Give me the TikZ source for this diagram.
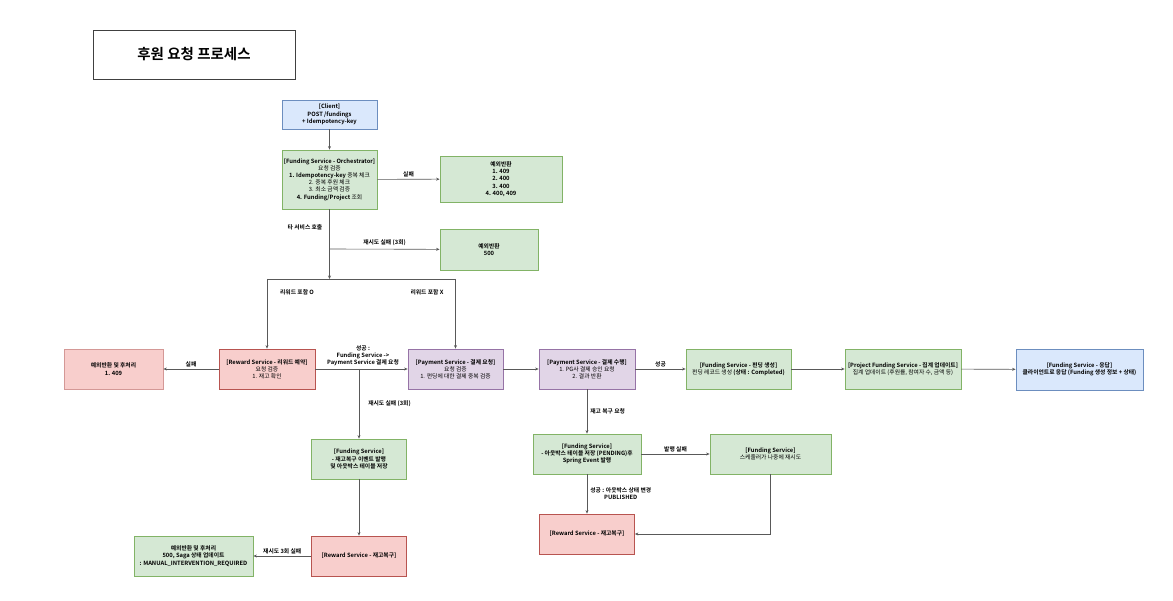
\documentclass[tikz,border=0pt]{standalone}
\usepackage{fontspec}
\setmainfont{Noto Sans CJK KR}[BoldFont={Noto Sans CJK KR Bold}]
\usetikzlibrary{arrows.meta}

\definecolor{greenfill}{HTML}{D5E8D4}
\definecolor{greenline}{HTML}{82B366}
\definecolor{redfill}{HTML}{F8CECC}
\definecolor{redline}{HTML}{B85450}
\definecolor{bluefill}{HTML}{DAE8FC}
\definecolor{blueline}{HTML}{6C8EBF}
\definecolor{purplefill}{HTML}{E1D5E7}
\definecolor{purpleline}{HTML}{9673A6}

\begin{document}
\begin{tikzpicture}[x=1pt, y=-1pt,
    box/.style={draw, line width=0.8pt, align=center, inner sep=1pt,
        font=\fontsize{5.8}{7.2}\selectfont},
    gbox/.style={box, fill=greenfill, draw=greenline},
    rbox/.style={box, fill=redfill, draw=redline},
    bbox/.style={box, fill=bluefill, draw=blueline},
    pbox/.style={box, fill=purplefill, draw=purpleline},
    flow/.style={draw=black!65, line width=0.6pt, -{Stealth[length=3.5pt,width=3pt]}},
    lbl/.style={font=\fontsize{5.8}{7.2}\selectfont\bfseries, align=center, inner sep=1pt}]
    \useasboundingbox (0,0) rectangle (1173,601);

    % Title
    \node[draw=black!75, line width=0.8pt, minimum width=202pt, minimum height=49pt,
        font=\fontsize{14.5}{17}\selectfont\bfseries] (title) at (194,54.5) {후원 요청 프로세스};

    % Request and validation
    \node[bbox, minimum width=95pt, minimum height=29pt] (client) at (329.5,114.5)
        {\textbf{[Client]}\\\textbf{POST /fundings}\\\textbf{+ Idempotency-key}};
    \node[gbox, minimum width=95pt, minimum height=59pt] (orch) at (329.5,179.5)
        {\textbf{[Funding Service - Orchestrator]}\\요청 검증\\\textbf{1. Idempotency-key} 중복 체크\\2. 중복 후원 체크\\3. 최소 금액 검증\\\textbf{4. Funding/Project} 조회};
    \node[gbox, minimum width=122pt, minimum height=46pt] (err1) at (501,179)
        {\bfseries 예외반환\\\bfseries 1. 409\\\bfseries 2. 400\\\bfseries 3. 400\\\bfseries 4. 400, 409};
    \node[gbox, minimum width=98pt, minimum height=41pt] (err500) at (489,249.5)
        {\bfseries 예외반환\\\bfseries 500};

    % Reward / payment row
    \node[rbox, minimum width=96pt, minimum height=40pt] (reward) at (267,369)
        {\textbf{[Reward Service - 리워드 예약]}\\요청 검증\\1. 재고 확인};
    \node[rbox, draw=redline!60, minimum width=99pt, minimum height=40pt] (errL) at (113.5,369)
        {\bfseries 예외반환 및 후처리\\\bfseries 1. 409};
    \node[pbox, minimum width=95pt, minimum height=40pt] (payreq) at (455.5,369)
        {\textbf{[Payment Service - 결제 요청]}\\요청 검증\\1. 펀딩에 대한 결제 중복 검증};
    \node[pbox, minimum width=96pt, minimum height=40pt] (payexe) at (587,369)
        {\textbf{[Payment Service - 결제 수행]}\\1. PG사 결제 승인 요청\\2. 결과 반환};
    \node[gbox, minimum width=105pt, minimum height=40pt] (fcreate) at (738.5,369)
        {\textbf{[Funding Service - 펀딩 생성]}\\펀딩 레코드 생성 \textbf{(상태 : Completed)}};
    \node[gbox, minimum width=116pt, minimum height=40pt] (proj) at (903,369)
        {\textbf{[Project Funding Service - 집계 업데이트]}\\집계 업데이트 (후원률, 참여자 수, 금액 등)};
    \node[bbox, minimum width=127pt, minimum height=41pt] (resp) at (1079.5,369.5)
        {\textbf{[Funding Service - 응답]}\\\textbf{클라이언트로 응답 (Funding 생성 정보 + 상태)}};

    % Compensation (left)
    \node[gbox, minimum width=95pt, minimum height=40pt] (frecov) at (359,459)
        {\textbf{[Funding Service]}\\\textbf{- 재고복구 이벤트 발행}\\\textbf{및 아웃박스 테이블 저장}};
    \node[rbox, minimum width=95pt, minimum height=40pt] (rrest1) at (359,556)
        {\bfseries [Reward Service - 재고복구]};
    \node[gbox, minimum width=119pt, minimum height=40pt] (errF) at (193.5,556)
        {\bfseries 예외반환 및 후처리\\\bfseries 500, Saga 상태 업데이트\\\bfseries : MANUAL\_INTERVENTION\_REQUIRED};

    % Compensation (outbox)
    \node[gbox, minimum width=108pt, minimum height=40pt] (outbox) at (587,454)
        {\textbf{[Funding Service]}\\\textbf{- 아웃박스 테이블 저장 (PENDING)후}\\\textbf{Spring Event 발행}};
    \node[gbox, minimum width=121pt, minimum height=40pt] (sched) at (770.5,454)
        {\textbf{[Funding Service]}\\스케줄러가 나중에 재시도};
    \node[rbox, minimum width=95pt, minimum height=40pt] (rrest2) at (587,534)
        {\bfseries [Reward Service - 재고복구]};

    % Branch points
    \coordinate (split) at (329.5,279);
    \coordinate (retry) at (329.5,249);
    \coordinate (brL) at (267,279);
    \coordinate (brR) at (455.5,279);
    \coordinate (fork) at (359,369);

    % Connectors
    \draw[flow] (client) -- (orch);
    \draw[flow] (orch) -- node[lbl, above=1pt] {실패} (err1);
    \draw[flow] (orch) -- (split);
    \node[lbl] (call) at (305,227) {타 서비스 호출};
    \draw[flow] (retry) -- node[lbl, above=2pt] {재시도 실패 (3회)} (err500);
    \draw[draw=black!65, line width=0.6pt] (brL) -- (brR);
    \draw[flow] (brL) -- (reward);
    \draw[flow] (brR) -- (payreq);
    \node[lbl] (withrw) at (297,292) {리워드 포함 O};
    \node[lbl] (norw) at (427,292) {리워드 포함 X};

    \draw[flow] (reward) -- node[lbl, above=1pt] {실패} (errL);
    \draw[flow] (reward) -- (payreq);
    \node[lbl] (ok1) at (363,356) {성공 :\\Funding Service -\textgreater\\Payment Service 결제 요청};
    \draw[flow] (fork) -- node[lbl, right=8pt, pos=0.5] {재시도 실패 (3회)} (frecov);
    \draw[flow] (frecov) -- (rrest1);
    \draw[flow] (rrest1) -- node[lbl, above=1pt] {재시도 3회 실패} (errF);

    \draw[flow] (payreq) -- (payexe);
    \draw[flow] (payexe) -- node[lbl, above=1pt] {성공} (fcreate);
    \draw[flow] (fcreate) -- (proj);
    \draw[flow] (proj) -- (resp);

    \draw[flow] (payexe) -- node[lbl, right=2pt] {재고 복구 요청} (outbox);
    \draw[flow] (outbox) -- node[lbl, above=1pt] {발행 실패} (sched);
    \draw[flow] (outbox) -- node[lbl, right=2pt] {성공 : 아웃박스 상태 변경\\PUBLISHED} (rrest2);
    \draw[flow] (sched.south) |- (rrest2.east);
\end{tikzpicture}
\end{document}
